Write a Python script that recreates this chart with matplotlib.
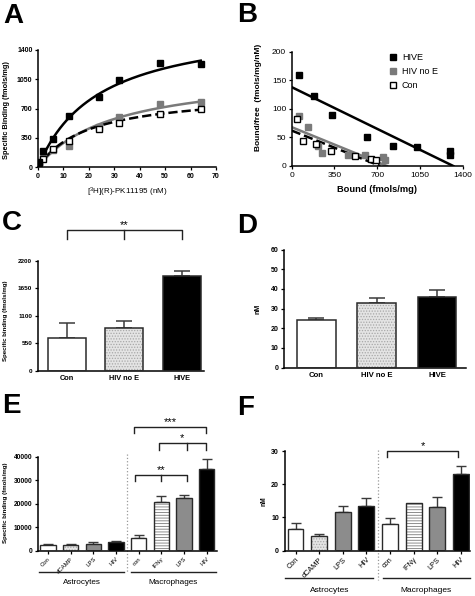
import matplotlib
matplotlib.use('Agg')
import matplotlib.pyplot as plt
import numpy as np

plt.rcParams['font.family'] = ['Liberation Sans', 'DejaVu Sans']
plt.rcParams['mathtext.fontset'] = 'custom'
plt.rcParams['mathtext.rm'] = 'Liberation Sans'
plt.rcParams['mathtext.default'] = 'regular'
plt.rcParams['hatch.linewidth'] = 0.6

# ---- A: saturation binding (fmols/mg) vs [3H](R)-PK11195 (nM)
conc = [0.5, 2, 6, 12, 24, 32, 48, 64]
sat_hive = [60, 190, 335, 615, 840, 1040, 1240, 1235]
sat_hivnoe = [50, 125, 200, 255, 475, 600, 755, 780]
sat_con = [45, 100, 220, 315, 460, 525, 635, 690]
# one-site fits: (Bmax, Kd)
fit_hive = (1750, 24)
fit_hivnoe = (1150, 30)
fit_con = (900, 20)

# ---- B: Scatchard
bound_hive = [63, 183, 327, 614, 827, 1023, 1300, 1300]
bf_hive = [160, 122, 89, 51, 35, 33, 27, 20]
bound_hivnoe = [63, 131, 215, 251, 464, 600, 750, 760]
bf_hivnoe = [88, 68, 35, 22, 20, 19, 15, 10]
bound_con = [41, 90, 200, 320, 519, 650, 690]
bf_con = [83, 44, 38, 26, 17, 12, 11]
# regression lines: (y intercept, x intercept)
line_hive = (138, 1323)
line_hivnoe = (68, 780)
line_con = (62, 725)

# ---- C / D
groups = ['Con', 'HIV no E', 'HIVE']
bmax = [660, 860, 1900]
bmax_err = [290, 140, 100]
kd = [24.2, 33.0, 35.9]
kd_err = [1.0, 2.5, 3.6]

# ---- E / F
labels_e = ['Con', 'dCAMP', 'LPS', 'HIV', 'con', 'IFN\u03b3', 'LPS', 'HIV']
labels_f = ['Con', 'dCAMP', 'LPS', 'HIV', 'con', 'IFN\u03b3', 'LPS', 'HIV']
cells_bmax = [2450, 2450, 2850, 3800, 5250, 20600, 22300, 34600]
cells_bmax_err = [250, 500, 950, 300, 1450, 2600, 1550, 4400]
cells_kd = [6.6, 4.35, 11.6, 13.5, 7.9, 14.3, 13.1, 23.2]
cells_kd_err = [1.8, 0.7, 1.9, 2.4, 1.8, 0.0, 3.1, 2.4]
cell_groups = ['Astrocytes', 'Macrophages']

# bar fills: (face, hatch, hatch colour)
STY = {
    'white': ('white', None, 'white'),
    'dots': ('#e4e4e4', '......', '#a8a8a8'),
    'gray': ('#8c8c8c', None, '#8c8c8c'),
    'black': ('black', None, 'black'),
    'hlines': ('white', '------', '#7a7a7a'),
}
styles_cd = ['white', 'dots', 'black']
styles_ef = ['white', 'dots', 'gray', 'black', 'white', 'hlines', 'gray', 'black']

W, H = 475, 596
fig = plt.figure(figsize=(W / 100, H / 100), dpi=100)


def box(l, r, t, b):
    return [l / W, 1 - b / H, (r - l) / W, (b - t) / H]


def style_axes(ax, size, bold=True):
    for s in ['top', 'right']:
        ax.spines[s].set_visible(False)
    for s in ['left', 'bottom']:
        ax.spines[s].set_linewidth(1.1)
    ax.tick_params(direction='out', length=2.5, width=0.9, pad=1.5, labelsize=size)
    if bold:
        for t in ax.get_xticklabels() + ax.get_yticklabels():
            t.set_fontweight('bold')


def bars(ax, x, vals, errs, styles, width, lw, cap):
    for xi, v, e, st in zip(x, vals, errs, styles):
        face, hatch, hc = STY[st]
        ax.bar(xi, v, width, color=face, hatch=hatch, edgecolor=hc, lw=0, zorder=2)
        ax.bar(xi, v, width, fill=False, edgecolor='#2a2a2a', lw=lw, zorder=3)
        if e > 0:
            ax.errorbar(xi, v, yerr=[[0], [e]], fmt='none', ecolor='#3a3a3a',
                        elinewidth=lw, capsize=cap, capthick=lw, zorder=1)


def bracket(ax, x1, x2, y, drop, label, mid=None, fs=8):
    ax.plot([x1, x1, x2, x2], [y - drop, y, y, y - drop], color='#222', lw=1, clip_on=False)
    if mid is not None:
        ax.plot([mid, mid], [y, y - drop], color='#222', lw=1, clip_on=False)
    ax.annotate(label, xy=((x1 + x2) / 2, y), xytext=(0, 1.5), textcoords='offset points',
                ha='center', va='baseline', fontsize=fs, annotation_clip=False)


# ---------------- A
axA = fig.add_axes(box(38, 216, 50, 167))
xs = np.linspace(0, 64, 200)
for (bm, k), ls, c in [(fit_hive, '-', 'black'), (fit_hivnoe, '-', '#7a7a7a'), (fit_con, '--', 'black')]:
    axA.plot(xs, bm * xs / (k + xs), ls=ls, color=c, lw=1.8, zorder=2)
axA.plot(conc, sat_hivnoe, 's', ms=4.3, color='#7a7a7a', zorder=3)
axA.plot(conc, sat_con, 's', ms=4.0, mfc='white', mec='black', mew=1.0, zorder=3)
axA.plot(conc, sat_hive, 's', ms=4.3, color='black', zorder=4)
axA.set_xlim(0, 70)
axA.set_ylim(0, 1400)
axA.set_xticks(range(0, 71, 10))
axA.set_yticks([0, 350, 700, 1050, 1400])
style_axes(axA, 5)
axA.set_ylabel('Specific Binding (fmols/mg)', fontsize=5.3, fontweight='bold')
axA.yaxis.set_label_coords(-0.156, 0.49)
axA.set_xlabel('[$^{3}$H](R)-PK11195 (nM)', fontsize=5.8)
axA.xaxis.set_label_coords(0.504, -0.16)

# ---------------- B
axB = fig.add_axes(box(291.7, 462.7, 51.7, 166))
for (y0, x0), ls, c in [(line_hive, '-', 'black'), (line_hivnoe, '-', '#7a7a7a'), (line_con, '--', 'black')]:
    axB.plot([0, x0], [y0, 0], ls=ls, color=c, lw=1.8, zorder=2)
axB.plot(bound_hive, bf_hive, 's', ms=4.3, color='black', label='HIVE', zorder=3)
axB.plot(bound_hivnoe, bf_hivnoe, 's', ms=4.3, color='#7a7a7a', label='HIV no E', zorder=3)
axB.plot(bound_con, bf_con, 's', ms=4.0, mfc='white', mec='black', mew=1.0, label='Con', zorder=3)
axB.set_xlim(0, 1400)
axB.set_ylim(0, 200)
axB.set_xticks([0, 350, 700, 1050, 1400])
axB.set_yticks([0, 50, 100, 150, 200])
style_axes(axB, 6, bold=False)
axB.set_ylabel('Bound/free  (fmols/mg/nM)', fontsize=6, fontweight='bold')
axB.yaxis.set_label_coords(-0.175, 0.6)
axB.set_xlabel('Bound (fmols/mg)', fontsize=6.7, fontweight='bold')
axB.xaxis.set_label_coords(0.497, -0.17)
axB.legend(loc='upper left', bbox_to_anchor=(0.55, 1.02), frameon=False, fontsize=6.5,
           handlelength=0.8, handletextpad=0.6, labelspacing=0.55, borderaxespad=0,
           markerscale=1.15)

# ---------------- C
axC = fig.add_axes(box(37.7, 204, 260.7, 370.7))
xc = np.arange(len(groups))
bars(axC, xc, bmax, bmax_err, styles_cd, 0.66, 1.1, 6)
axC.set_xlim(-0.51, 2.39)
axC.set_ylim(0, 2200)
axC.set_xticks(xc, groups)
axC.set_yticks([0, 550, 1100, 1650, 2200])
style_axes(axC, 4.6)
axC.tick_params(axis='x', length=0, labelsize=5.3, pad=3)
axC.set_ylabel('Specific binding (fmols/mg)', fontsize=4.4, fontweight='bold')
axC.yaxis.set_label_coords(-0.176, 0.454)
bracket(axC, 0, 2, 2814, 180, '**', mid=1)

# ---------------- D
axD = fig.add_axes(box(284.3, 466, 249.5, 367.5))
bars(axD, xc, kd, kd_err, styles_cd, 0.64, 1.1, 6)
axD.set_xlim(-0.53, 2.48)
axD.set_ylim(0, 60)
axD.set_xticks(xc, groups)
axD.set_yticks(range(0, 61, 10))
style_axes(axD, 5)
axD.tick_params(axis='x', length=0, labelsize=5.6, pad=3)
axD.set_ylabel('nM', fontsize=5, fontweight='bold')
axD.yaxis.set_label_coords(-0.128, 0.5)

# ---------------- E
axE = fig.add_axes(box(38.3, 216.7, 456.7, 550.7))
xe = np.arange(len(labels_e))
bars(axE, xe, cells_bmax, cells_bmax_err, styles_ef, 0.68, 1.0, 3.6)
axE.set_xlim(-0.43, 7.44)
axE.set_ylim(0, 40000)
axE.set_yticks(range(0, 40001, 10000))
axE.set_xticks(xe, labels_e, rotation=45, ha='right', va='top', rotation_mode='anchor')
style_axes(axE, 4.8)
axE.tick_params(axis='x', length=2, labelsize=4.3, pad=2)
for t in axE.get_xticklabels():
    t.set_fontweight('normal')
axE.set_ylabel('Specific binding (fmols/mg)', fontsize=4.4, fontweight='bold')
axE.yaxis.set_label_coords(-0.17, 0.51)
trE = axE.get_xaxis_transform()
axE.plot([3.5, 3.5], [1.03, -0.223], transform=trE, ls=':', color='#999', lw=0.9, clip_on=False)
for (a, b), name in zip([(-0.4, 3.35), (3.65, 7.4)], cell_groups):
    axE.plot([a, b], [-0.223, -0.223], transform=trE, color='#222', lw=1, clip_on=False)
    axE.text((a + b) / 2, -0.34, name, transform=trE, ha='center', va='center', fontsize=5.9)
bracket(axE, 3.8, 6.95, 52766, 2550, '***')
bracket(axE, 4.9, 6.95, 45702, 2850, '*', mid=6.15)
bracket(axE, 3.83, 6.11, 32213, 2430, '**', mid=5.0)

# ---------------- F
axF = fig.add_axes(box(284.5, 470, 451, 550.7))
bars(axF, xe, cells_kd, cells_kd_err, styles_ef, 0.67, 1.0, 3.6)
axF.set_xlim(-0.47, 7.39)
axF.set_ylim(0, 30)
axF.set_yticks([0, 10, 20, 30])
axF.set_xticks(xe, labels_f, rotation=45, ha='right', va='top', rotation_mode='anchor')
style_axes(axF, 5)
axF.tick_params(axis='x', length=2, labelsize=5.3, pad=2)
for t in axF.get_xticklabels():
    t.set_fontweight('normal')
axF.set_ylabel('nM', fontsize=4.8, fontweight='bold')
axF.yaxis.set_label_coords(-0.094, 0.5)
trF = axF.get_xaxis_transform()
axF.plot([3.5, 3.5], [1.01, -0.29], transform=trF, ls=':', color='#999', lw=0.9, clip_on=False)
for (a, b), name in zip([(-0.44, 3.3), (3.69, 7.39)], cell_groups):
    axF.plot([a, b], [-0.277, -0.277], transform=trF, color='#222', lw=1, clip_on=False)
    axF.text((a + b) / 2, -0.404, name, transform=trF, ha='center', va='center', fontsize=6)
bracket(axF, 3.86, 6.9, 30.03, 1.9, '*')

# panel letters
for letter, x, y in [('A', 3, 23.3), ('B', 237, 21.7), ('C', 2, 230),
                     ('D', 237, 233.3), ('E', 2, 413.3), ('F', 237, 415)]:
    fig.text(x / W, 1 - y / H, letter, fontsize=20, fontweight='bold', va='baseline', ha='left')

fig.savefig('out.png', dpi=100)
